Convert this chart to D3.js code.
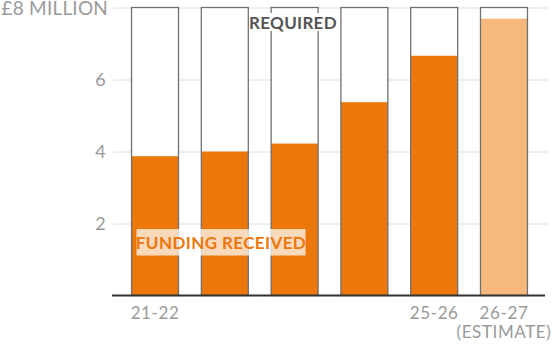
<!DOCTYPE html>
<html>
<head>
<meta charset="utf-8">
<script src="https://cdn.jsdelivr.net/npm/d3@7"></script>
<style>
  body { margin: 0; background: #fff; }
  svg { display: block; font-family: Lato, "Open Sans", sans-serif; }
</style>
</head>
<body>
<div id="chart"></div>
<script>
// data (£ million)
var years = ["21-22", "22-23", "23-24", "24-25", "25-26", "26-27"];
var required = [8, 8, 8, 8, 8, 8];
var received = [3.87, 4.0, 4.22, 5.37, 6.66, 7.69];
var isEstimate = [false, false, false, false, false, true];
var xLabels = ["21-22", "", "", "", "25-26", "26-27|(ESTIMATE)"];
var yTicks = [2, 4, 6, 8];
var yTickLabels = ["2", "4", "6", "£8 MILLION"];

var width = 554, height = 345;

var svg = d3.select("#chart").append("svg")
	.attr("width", width)
	.attr("height", height);

var x = d3.scaleBand()
	.domain(years)
	.range([112, 547])
	.paddingInner(0.327)
	.paddingOuter(0.28);

var y = d3.scaleLinear()
	.domain([0, 8])
	.range([295.5, 7.5]);

// gridlines + y labels
var yAxis = svg.append("g")
	.attr("transform", "translate(113,0)")
	.call(d3.axisLeft(y)
		.tickValues(yTicks)
		.tickSize(-435)
		.tickPadding(7)
		.tickFormat(function (d, i) { return yTickLabels[i]; }));

yAxis.select(".domain").remove();
yAxis.selectAll(".tick line").attr("stroke", "#dcdcdc").attr("stroke-width", 1);
yAxis.selectAll(".tick text")
	.attr("fill", "#9a9a9a")
	.attr("font-size", function (d) { return d === 8 ? 19 : 18; })
	.attr("letter-spacing", 0.2)
	.attr("font-family", "Lato, sans-serif")
	.attr("dy", "0.36em");
// top label sits a touch right so it starts at the edge
yAxis.selectAll(".tick text").filter(function (d) { return d === 8; }).attr("x", -5);

// bars: required outline with white fill, then received fill, then outline on top
var bars = svg.append("g").selectAll("g")
	.data(years)
	.enter()
	.append("g");

bars.append("rect")
	.attr("x", function (d) { return x(d); })
	.attr("y", function (d, i) { return y(required[i]); })
	.attr("width", x.bandwidth())
	.attr("height", function (d, i) { return y(0) - y(required[i]); })
	.attr("fill", "#fff");

bars.append("rect")
	.attr("x", function (d) { return x(d); })
	.attr("y", function (d, i) { return y(received[i]); })
	.attr("width", x.bandwidth())
	.attr("height", function (d, i) { return y(0) - y(received[i]); })
	.attr("fill", function (d, i) { return isEstimate[i] ? "#f7b87b" : "#ec770b"; });

bars.append("rect")
	.attr("x", function (d) { return x(d); })
	.attr("y", function (d, i) { return y(required[i]); })
	.attr("width", x.bandwidth())
	.attr("height", function (d, i) { return y(0) - y(required[i]); })
	.attr("fill", "none")
	.attr("stroke", "#707070")
	.attr("stroke-width", 1.3);

// baseline
var xAxis = svg.append("g")
	.attr("transform", "translate(0," + y(0) + ")")
	.call(d3.axisBottom(x).tickSize(0).tickPadding(0).tickFormat(""));

xAxis.select(".domain").remove();
svg.append("line")
	.attr("x1", 112).attr("x2", 545)
	.attr("y1", y(0)).attr("y2", y(0))
	.attr("stroke", "#333").attr("stroke-width", 2);

// category labels
xAxis.selectAll(".tick").each(function (d, i) {
	var parts = xLabels[i] ? xLabels[i].split("|") : [];
	var t = d3.select(this).append("text")
		.attr("fill", "#9a9a9a")
		.attr("font-size", 17)
		.attr("letter-spacing", 0.6)
		.attr("font-family", "Lato, sans-serif")
		.attr("text-anchor", "middle")
		.attr("y", 23.5);
	parts.forEach(function (p, j) {
		t.append("tspan").attr("x", 0).attr("dy", j === 0 ? 0 : 19).text(p);
	});
});

// REQUIRED label
svg.append("rect")
	.attr("x", 249).attr("y", 13)
	.attr("width", 88).attr("height", 18)
	.attr("fill", "#fff");
svg.append("text")
	.attr("x", 293).attr("y", 29)
	.attr("text-anchor", "middle")
	.attr("font-size", 17)
	.attr("letter-spacing", 0.3)
	.attr("font-weight", "bold")
	.attr("fill", "#555")
	.text("REQUIRED");

// FUNDING RECEIVED label
svg.append("rect")
	.attr("x", 136.5).attr("y", 229)
	.attr("width", 169).attr("height", 26.5)
	.attr("fill", "#fff")
	.attr("fill-opacity", 0.72);
svg.append("text")
	.attr("x", 221).attr("y", 249)
	.attr("text-anchor", "middle")
	.attr("font-size", 17)
	.attr("letter-spacing", 0.4)
	.attr("font-weight", "bold")
	.attr("fill", "#ec770b")
	.text("FUNDING RECEIVED");
</script>
</body>
</html>
